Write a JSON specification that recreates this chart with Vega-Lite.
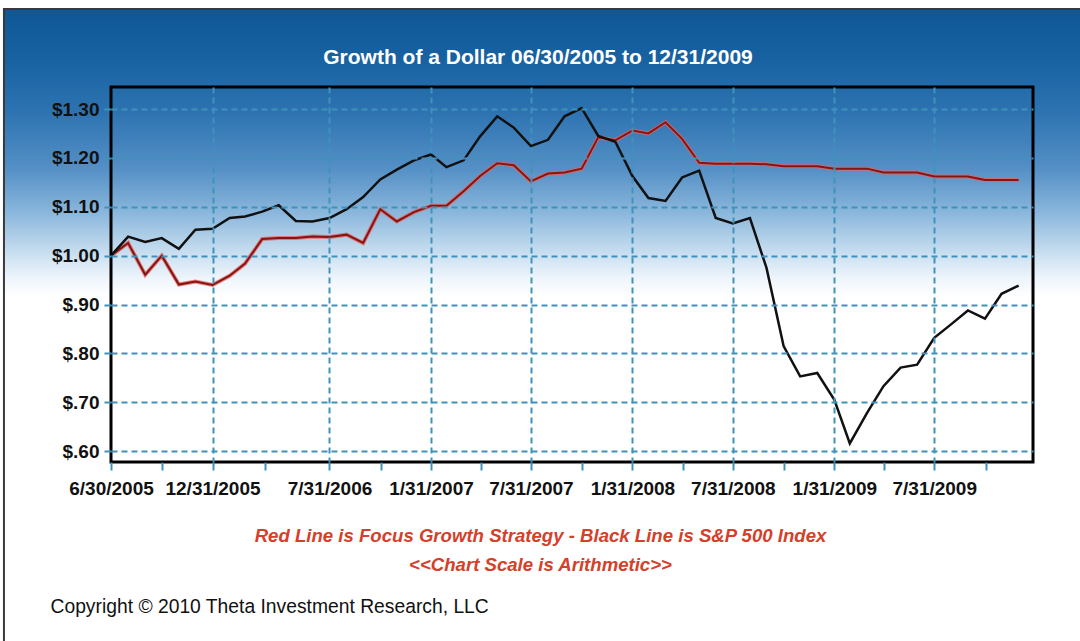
{
  "$schema": "https://vega.github.io/schema/vega-lite/v6.json",
  "width": 922,
  "height": 375,
  "autosize": {"type": "none"},
  "padding": {"left": 111, "top": 87, "right": 47, "bottom": 179},
  "background": "#ffffff",
  "view": {"stroke": null},
  "title": {
    "text": "Growth of a Dollar 06/30/2005 to 12/31/2009",
    "color": "#ffffff",
    "font": "Liberation Sans",
    "fontSize": 21,
    "fontWeight": "bold",
    "anchor": "middle",
    "baseline": "alphabetic",
    "offset": -77,
    "dx": -34
  },
  "data": {
    "values": [
      {"date": "2005-06-30", "focus": 1.000, "sp500": 1.000},
      {"date": "2005-07-31", "focus": 1.026, "sp500": 1.039},
      {"date": "2005-08-31", "focus": 0.961, "sp500": 1.028},
      {"date": "2005-09-30", "focus": 1.000, "sp500": 1.036},
      {"date": "2005-10-31", "focus": 0.941, "sp500": 1.014},
      {"date": "2005-11-30", "focus": 0.947, "sp500": 1.053},
      {"date": "2005-12-31", "focus": 0.940, "sp500": 1.055},
      {"date": "2006-01-31", "focus": 0.959, "sp500": 1.077},
      {"date": "2006-02-28", "focus": 0.984, "sp500": 1.080},
      {"date": "2006-03-31", "focus": 1.034, "sp500": 1.090},
      {"date": "2006-04-30", "focus": 1.036, "sp500": 1.103},
      {"date": "2006-05-31", "focus": 1.036, "sp500": 1.071},
      {"date": "2006-06-30", "focus": 1.039, "sp500": 1.070},
      {"date": "2006-07-31", "focus": 1.038, "sp500": 1.077},
      {"date": "2006-08-31", "focus": 1.043, "sp500": 1.095},
      {"date": "2006-09-30", "focus": 1.026, "sp500": 1.120},
      {"date": "2006-10-31", "focus": 1.095, "sp500": 1.156},
      {"date": "2006-11-30", "focus": 1.070, "sp500": 1.176},
      {"date": "2006-12-31", "focus": 1.089, "sp500": 1.195},
      {"date": "2007-01-31", "focus": 1.102, "sp500": 1.207},
      {"date": "2007-02-28", "focus": 1.102, "sp500": 1.181},
      {"date": "2007-03-31", "focus": 1.132, "sp500": 1.195},
      {"date": "2007-04-30", "focus": 1.163, "sp500": 1.244},
      {"date": "2007-05-31", "focus": 1.189, "sp500": 1.285},
      {"date": "2007-06-30", "focus": 1.185, "sp500": 1.262},
      {"date": "2007-07-31", "focus": 1.152, "sp500": 1.224},
      {"date": "2007-08-31", "focus": 1.168, "sp500": 1.237},
      {"date": "2007-09-30", "focus": 1.170, "sp500": 1.285},
      {"date": "2007-10-31", "focus": 1.178, "sp500": 1.302},
      {"date": "2007-11-30", "focus": 1.242, "sp500": 1.245},
      {"date": "2007-12-31", "focus": 1.236, "sp500": 1.233},
      {"date": "2008-01-31", "focus": 1.256, "sp500": 1.163},
      {"date": "2008-02-29", "focus": 1.250, "sp500": 1.118},
      {"date": "2008-03-31", "focus": 1.273, "sp500": 1.112},
      {"date": "2008-04-30", "focus": 1.239, "sp500": 1.160},
      {"date": "2008-05-31", "focus": 1.190, "sp500": 1.174},
      {"date": "2008-06-30", "focus": 1.188, "sp500": 1.077},
      {"date": "2008-07-31", "focus": 1.188, "sp500": 1.066},
      {"date": "2008-08-31", "focus": 1.188, "sp500": 1.077},
      {"date": "2008-09-30", "focus": 1.187, "sp500": 0.975},
      {"date": "2008-10-31", "focus": 1.183, "sp500": 0.815},
      {"date": "2008-11-30", "focus": 1.183, "sp500": 0.753},
      {"date": "2008-12-31", "focus": 1.183, "sp500": 0.760},
      {"date": "2009-01-31", "focus": 1.178, "sp500": 0.705},
      {"date": "2009-02-28", "focus": 1.178, "sp500": 0.616},
      {"date": "2009-03-31", "focus": 1.178, "sp500": 0.678},
      {"date": "2009-04-30", "focus": 1.170, "sp500": 0.733},
      {"date": "2009-05-31", "focus": 1.170, "sp500": 0.771},
      {"date": "2009-06-30", "focus": 1.170, "sp500": 0.777},
      {"date": "2009-07-31", "focus": 1.162, "sp500": 0.832},
      {"date": "2009-08-31", "focus": 1.162, "sp500": 0.860},
      {"date": "2009-09-30", "focus": 1.162, "sp500": 0.888},
      {"date": "2009-10-31", "focus": 1.155, "sp500": 0.871},
      {"date": "2009-11-30", "focus": 1.155, "sp500": 0.922},
      {"date": "2009-12-31", "focus": 1.155, "sp500": 0.939}
    ]
  },
  "layer": [
    {
      "data": {"values": [{}]},
      "mark": {
        "type": "rect",
        "clip": false,
        "stroke": "#3a3a3a",
        "strokeWidth": 2,
        "fill": {
          "gradient": "linear",
          "x1": 0, "y1": 0, "x2": 0, "y2": 1,
          "stops": [
            {"offset": 0, "color": "#0f5797"},
            {"offset": 0.08, "color": "#1862a2"},
            {"offset": 0.16, "color": "#2d73b1"},
            {"offset": 0.25, "color": "#5590c6"},
            {"offset": 0.32, "color": "#8cb8dc"},
            {"offset": 0.38, "color": "#c8def0"},
            {"offset": 0.42, "color": "#eef5fb"},
            {"offset": 0.45, "color": "#ffffff"},
            {"offset": 1, "color": "#ffffff"}
          ]
        }
      },
      "encoding": {
        "x": {"datum": {"year": 2004, "month": 12, "date": 18, "utc": true}, "type": "temporal"},
        "x2": {"datum": {"year": 2010, "month": 5, "date": 10, "utc": true}},
        "y": {"datum": 1.5045, "type": "quantitative"},
        "y2": {"datum": 0.1934}
      }
    },
    {
      "mark": {"type": "line", "color": "#e2645c", "strokeWidth": 4, "opacity": 0.8},
      "encoding": {
        "x": {
          "field": "date",
          "type": "temporal",
          "scale": {
            "type": "utc",
            "domain": [
              {"year": 2005, "month": 6, "date": 30, "utc": true},
              {"year": 2010, "month": 1, "date": 26, "utc": true}
            ]
          },
          "axis": {
            "zindex": 1,
            "values": [
              {"year": 2005, "month": 6, "date": 30, "utc": true},
              {"year": 2005, "month": 8, "date": 15, "utc": true},
              {"year": 2005, "month": 10, "date": 1, "utc": true},
              {"year": 2005, "month": 11, "date": 15, "utc": true},
              {"year": 2005, "month": 12, "date": 31, "utc": true},
              {"year": 2006, "month": 2, "date": 15, "utc": true},
              {"year": 2006, "month": 4, "date": 5, "utc": true},
              {"year": 2006, "month": 6, "date": 1, "utc": true},
              {"year": 2006, "month": 7, "date": 31, "utc": true},
              {"year": 2006, "month": 9, "date": 15, "utc": true},
              {"year": 2006, "month": 11, "date": 1, "utc": true},
              {"year": 2006, "month": 12, "date": 15, "utc": true},
              {"year": 2007, "month": 1, "date": 31, "utc": true},
              {"year": 2007, "month": 3, "date": 15, "utc": true},
              {"year": 2007, "month": 5, "date": 1, "utc": true},
              {"year": 2007, "month": 6, "date": 15, "utc": true},
              {"year": 2007, "month": 7, "date": 31, "utc": true},
              {"year": 2007, "month": 9, "date": 15, "utc": true},
              {"year": 2007, "month": 11, "date": 1, "utc": true},
              {"year": 2007, "month": 12, "date": 15, "utc": true},
              {"year": 2008, "month": 1, "date": 31, "utc": true},
              {"year": 2008, "month": 3, "date": 15, "utc": true},
              {"year": 2008, "month": 5, "date": 1, "utc": true},
              {"year": 2008, "month": 6, "date": 15, "utc": true},
              {"year": 2008, "month": 7, "date": 31, "utc": true},
              {"year": 2008, "month": 9, "date": 15, "utc": true},
              {"year": 2008, "month": 11, "date": 1, "utc": true},
              {"year": 2008, "month": 12, "date": 15, "utc": true},
              {"year": 2009, "month": 1, "date": 31, "utc": true},
              {"year": 2009, "month": 3, "date": 15, "utc": true},
              {"year": 2009, "month": 5, "date": 1, "utc": true},
              {"year": 2009, "month": 6, "date": 15, "utc": true},
              {"year": 2009, "month": 7, "date": 31, "utc": true},
              {"year": 2009, "month": 9, "date": 15, "utc": true},
              {"year": 2009, "month": 11, "date": 1, "utc": true},
              {"year": 2009, "month": 12, "date": 15, "utc": true}
            ],
            "format": "%-m/%-d/%Y",
            "labelExpr": "utcdate(datum.value) >= 28 ? datum.label : ''",
            "gridOpacity": {"condition": {"test": "utcdate(datum.value) >= 28 && datum.value > utc(2005, 6, 1)", "value": 1}, "value": 0},
            "labelFlush": false,
            "labelOverlap": false,
            "labelBound": false,
            "tickSize": 8,
            "labelPadding": 9,
            "title": ["Red Line is Focus Growth Strategy - Black Line is S&P 500 Index", "<<Chart Scale is Arithmetic>>"],
            "titleX": 429,
            "titleY": 79,
            "titleAlign": "center",
            "titleAnchor": "start",
            "titleBaseline": "alphabetic",
            "titleColor": "#d4402a",
            "titleFont": "Liberation Sans",
            "titleFontSize": 18.6,
            "titleFontStyle": "italic",
            "titleFontWeight": "bold",
            "titleLineHeight": 29
          }
        },
        "y": {
          "field": "focus",
          "type": "quantitative",
          "scale": {"domain": [0.578, 1.345], "nice": false, "zero": false},
          "axis": {
            "zindex": 1,
            "values": [0.6, 0.7, 0.8, 0.9, 1.0, 1.1, 1.2, 1.3],
            "labelExpr": "'$' + (datum.value < 1 ? slice(format(datum.value, '.2f'), 1) : format(datum.value, '.2f'))",
            "tickSize": 7,
            "labelPadding": 5,
            "title": "Copyright © 2010 Theta Investment Research, LLC",
            "titleAngle": 0,
            "titleAlign": "left",
            "titleAnchor": "start",
            "titleBaseline": "alphabetic",
            "titleX": -61,
            "titleY": 525,
            "titleColor": "#111111",
            "titleFont": "Liberation Sans",
            "titleFontSize": 19.3,
            "titleFontWeight": "normal"
          }
        }
      }
    },
    {
      "mark": {"type": "line", "color": "#861414", "strokeWidth": 2},
      "encoding": {
        "x": {"field": "date", "type": "temporal"},
        "y": {"field": "focus", "type": "quantitative"}
      }
    },
    {
      "mark": {"type": "line", "color": "#111111", "strokeWidth": 2.5},
      "encoding": {
        "x": {"field": "date", "type": "temporal"},
        "y": {"field": "sp500", "type": "quantitative"}
      }
    },
    {
      "data": {"values": [{}]},
      "mark": {"type": "rect", "fill": "transparent", "stroke": "#000000", "strokeWidth": 3},
      "encoding": {
        "x": {"datum": {"year": 2005, "month": 6, "date": 30, "utc": true}, "type": "temporal"},
        "x2": {"datum": {"year": 2010, "month": 1, "date": 26, "utc": true}},
        "y": {"datum": 1.345, "type": "quantitative"},
        "y2": {"datum": 0.578}
      }
    }
  ],
  "config": {
    "axis": {
      "grid": true,
      "gridColor": "#3f93bb",
      "gridDash": [6, 4],
      "gridWidth": 2,
      "domain": false,
      "tickColor": "#3f93bb",
      "tickWidth": 2,
      "labelFont": "Liberation Sans",
      "labelFontSize": 19,
      "labelFontWeight": "bold",
      "labelColor": "#111111"
    }
  }
}
